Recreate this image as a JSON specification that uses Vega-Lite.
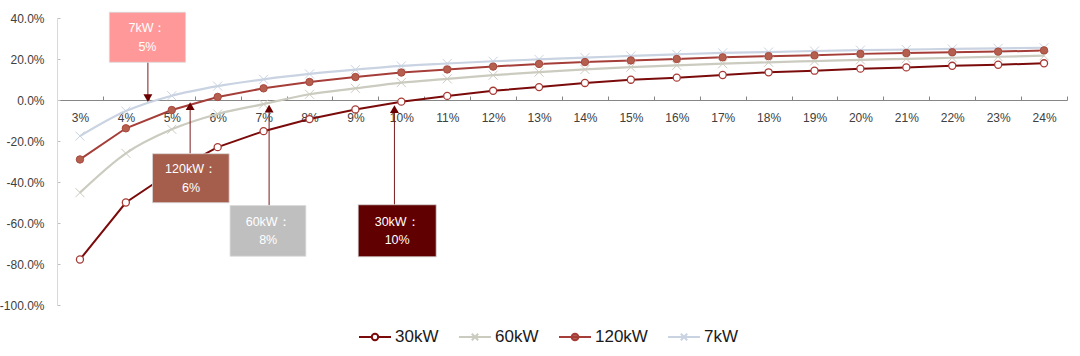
{
  "$schema": "https://vega.github.io/schema/vega-lite/v6.json",
  "width": 1010,
  "height": 287,
  "autosize": {"type": "none"},
  "padding": {"left": 57, "top": 18, "right": 13, "bottom": 51},
  "background": "#ffffff",
  "config": {
    "view": {"stroke": null},
    "font": "Liberation Sans",
    "axis": {"grid": false, "title": null}
  },
  "datasets": {
    "series": [
      {"irr": 3, "s": "30kW", "v": -77.8}, {"irr": 4, "s": "30kW", "v": -50.0}, {"irr": 5, "s": "30kW", "v": -35.0}, {"irr": 6, "s": "30kW", "v": -23.0},
      {"irr": 7, "s": "30kW", "v": -15.2}, {"irr": 8, "s": "30kW", "v": -9.3}, {"irr": 9, "s": "30kW", "v": -4.6}, {"irr": 10, "s": "30kW", "v": -0.8},
      {"irr": 11, "s": "30kW", "v": 2.0}, {"irr": 12, "s": "30kW", "v": 4.5}, {"irr": 13, "s": "30kW", "v": 6.3}, {"irr": 14, "s": "30kW", "v": 8.3},
      {"irr": 15, "s": "30kW", "v": 9.9}, {"irr": 16, "s": "30kW", "v": 10.9}, {"irr": 17, "s": "30kW", "v": 12.2}, {"irr": 18, "s": "30kW", "v": 13.5},
      {"irr": 19, "s": "30kW", "v": 14.3}, {"irr": 20, "s": "30kW", "v": 15.3}, {"irr": 21, "s": "30kW", "v": 15.9}, {"irr": 22, "s": "30kW", "v": 16.7},
      {"irr": 23, "s": "30kW", "v": 17.2}, {"irr": 24, "s": "30kW", "v": 17.9},
      {"irr": 3, "s": "60kW", "v": -45.2}, {"irr": 4, "s": "60kW", "v": -26.0}, {"irr": 5, "s": "60kW", "v": -14.3}, {"irr": 6, "s": "60kW", "v": -6.8},
      {"irr": 7, "s": "60kW", "v": -2.0}, {"irr": 8, "s": "60kW", "v": 2.8}, {"irr": 9, "s": "60kW", "v": 5.7}, {"irr": 10, "s": "60kW", "v": 8.5},
      {"irr": 11, "s": "60kW", "v": 10.3}, {"irr": 12, "s": "60kW", "v": 12.1}, {"irr": 13, "s": "60kW", "v": 13.6}, {"irr": 14, "s": "60kW", "v": 14.9},
      {"irr": 15, "s": "60kW", "v": 16.0}, {"irr": 16, "s": "60kW", "v": 16.9}, {"irr": 17, "s": "60kW", "v": 17.7}, {"irr": 18, "s": "60kW", "v": 18.4},
      {"irr": 19, "s": "60kW", "v": 19.0}, {"irr": 20, "s": "60kW", "v": 19.6}, {"irr": 21, "s": "60kW", "v": 20.1}, {"irr": 22, "s": "60kW", "v": 20.6},
      {"irr": 23, "s": "60kW", "v": 21.1}, {"irr": 24, "s": "60kW", "v": 21.6},
      {"irr": 3, "s": "120kW", "v": -29.0}, {"irr": 4, "s": "120kW", "v": -13.8}, {"irr": 5, "s": "120kW", "v": -4.9}, {"irr": 6, "s": "120kW", "v": 1.5},
      {"irr": 7, "s": "120kW", "v": 5.7}, {"irr": 8, "s": "120kW", "v": 8.8}, {"irr": 9, "s": "120kW", "v": 11.2}, {"irr": 10, "s": "120kW", "v": 13.4},
      {"irr": 11, "s": "120kW", "v": 14.9}, {"irr": 12, "s": "120kW", "v": 16.3}, {"irr": 13, "s": "120kW", "v": 17.6}, {"irr": 14, "s": "120kW", "v": 18.5},
      {"irr": 15, "s": "120kW", "v": 19.3}, {"irr": 16, "s": "120kW", "v": 20.0}, {"irr": 17, "s": "120kW", "v": 20.8}, {"irr": 18, "s": "120kW", "v": 21.4},
      {"irr": 19, "s": "120kW", "v": 21.8}, {"irr": 20, "s": "120kW", "v": 22.5}, {"irr": 21, "s": "120kW", "v": 22.9}, {"irr": 22, "s": "120kW", "v": 23.3},
      {"irr": 23, "s": "120kW", "v": 23.6}, {"irr": 24, "s": "120kW", "v": 24.2},
      {"irr": 3, "s": "7kW", "v": -17.6}, {"irr": 4, "s": "7kW", "v": -5.4}, {"irr": 5, "s": "7kW", "v": 2.1}, {"irr": 6, "s": "7kW", "v": 6.8},
      {"irr": 7, "s": "7kW", "v": 10.1}, {"irr": 8, "s": "7kW", "v": 12.7}, {"irr": 9, "s": "7kW", "v": 14.8}, {"irr": 10, "s": "7kW", "v": 16.6},
      {"irr": 11, "s": "7kW", "v": 17.8}, {"irr": 12, "s": "7kW", "v": 18.9}, {"irr": 13, "s": "7kW", "v": 19.8}, {"irr": 14, "s": "7kW", "v": 20.7},
      {"irr": 15, "s": "7kW", "v": 21.5}, {"irr": 16, "s": "7kW", "v": 22.3}, {"irr": 17, "s": "7kW", "v": 23.0}, {"irr": 18, "s": "7kW", "v": 23.4},
      {"irr": 19, "s": "7kW", "v": 23.9}, {"irr": 20, "s": "7kW", "v": 24.3}, {"irr": 21, "s": "7kW", "v": 24.6}, {"irr": 22, "s": "7kW", "v": 24.9},
      {"irr": 23, "s": "7kW", "v": 25.2}, {"irr": 24, "s": "7kW", "v": 25.5}
    ],
    "notes": [
      {"name": "7kW", "label": "7kW：\n5%", "bx1": 3.64, "bx2": 5.30, "by1": 42.8, "by2": 18.4, "cx": 4.47, "cy": 30.6, "ax": 4.48, "from": 18.4, "tri": 0.9, "dir": "down"},
      {"name": "120kW", "label": "120kW：\n6%", "bx1": 4.58, "bx2": 6.25, "by1": -26.2, "by2": -50.1, "cx": 5.42, "cy": -38.2, "ax": 5.40, "from": -26.2, "tri": -3.0, "dir": "up"},
      {"name": "60kW", "label": "60kW：\n8%", "bx1": 6.27, "bx2": 7.92, "by1": -51.5, "by2": -76.2, "cx": 7.10, "cy": -63.9, "ax": 7.12, "from": -51.5, "tri": -4.2, "dir": "up"},
      {"name": "30kW", "label": "30kW：\n10%", "bx1": 9.06, "bx2": 10.76, "by1": -51.1, "by2": -76.5, "cx": 9.91, "cy": -63.8, "ax": 9.85, "from": -51.1, "tri": -4.4, "dir": "up"}
    ]
  },
  "layer": [
    {
      "data": {"name": "series"},
      "transform": [{"filter": "datum.s === '30kW' || datum.s === '120kW'"}],
      "mark": {"type": "line", "strokeWidth": 2, "interpolate": "linear"},
      "encoding": {
        "x": {
          "field": "irr", "type": "quantitative",
          "scale": {"domain": [2.5, 24.5], "nice": false, "zero": false},
          "axis": {
            "values": [2.5, 3.5, 4.5, 5.5, 6.5, 7.5, 8.5, 9.5, 10.5, 11.5, 12.5, 13.5, 14.5, 15.5, 16.5, 17.5, 18.5, 19.5, 20.5, 21.5, 22.5, 23.5, 24.5],
            "labelExpr": "datum.value < 24 ? (datum.value + 0.5) + '%' : ''",
            "labelOffset": 23,
            "labelFlush": false,
            "labelOverlap": false,
            "labelBound": false,
            "offset": -205,
            "domainColor": "#868686",
            "tickColor": "#868686",
            "tickSize": -4,
            "labelPadding": 16,
            "labelFontSize": 12,
            "labelFont": "Liberation Sans",
            "labelColor": "#404040",
            "title": null,
            "grid": false
          }
        },
        "y": {
          "field": "v", "type": "quantitative",
          "scale": {"domain": [-100, 40], "nice": false, "zero": false},
          "axis": {
            "values": [-100, -80, -60, -40, -20, 0, 20, 40],
            "labelExpr": "(datum.value < 0 ? '-' : '') + format(abs(datum.value), '.1f') + '%'",
            "domainColor": "#d9d9d9",
            "tickColor": "#bfbfbf",
            "tickSize": -3,
            "labelPadding": 16,
            "labelFontSize": 12,
            "labelFont": "Liberation Sans",
            "labelColor": "#404040",
            "title": null,
            "grid": false
          }
        },
        "color": {
          "field": "s", "type": "nominal",
          "scale": {"domain": ["30kW", "60kW", "120kW", "7kW"], "range": ["#7b0a0a", "#cbcbc0", "#a53e38", "#c9d3e2"]},
          "legend": {
            "orient": "none",
            "legendX": 301,
            "legendY": 302,
            "direction": "horizontal",
            "title": null,
            "padding": 0,
            "symbolSize": 1024,
            "symbolStrokeWidth": 2,
            "labelFont": "Liberation Sans",
            "labelFontSize": 17,
            "labelColor": "#1a1a1a",
            "labelOffset": 3,
            "labelLimit": 200,
            "columnPadding": 16,
            "encode": {
              "symbols": {
                "update": {
                  "shape": {"signal": "datum.value === '30kW' ? 'M-1,0H-0.2M0.2,0H1M0.2,0A0.2,0.2,0,1,1,-0.2,0A0.2,0.2,0,1,1,0.2,0' : datum.value === '120kW' ? 'M-1,0H1M0.21,0A0.21,0.21,0,1,1,-0.21,0A0.21,0.21,0,1,1,0.21,0' : 'M-1,0H1M-0.2,-0.2L0.2,0.2M-0.2,0.2L0.2,-0.2'"},
                  "fill": {"signal": "datum.value === '30kW' ? '#ffffff' : datum.value === '120kW' ? '#b5604f' : 'transparent'"},
                  "stroke": {"signal": "datum.value === '30kW' ? '#7b0a0a' : datum.value === '120kW' ? '#a53e38' : datum.value === '60kW' ? '#cbcbc0' : '#c9d3e2'"},
                  "strokeWidth": {"value": 2},
                  "opacity": {"value": 1}
                }
              }
            }
          }
        }
      }
    },
    {
      "data": {"name": "series"},
      "transform": [{"filter": "datum.s === '60kW' || datum.s === '7kW'"}],
      "mark": {"type": "line", "strokeWidth": 2.2, "interpolate": "monotone"},
      "encoding": {
        "x": {"field": "irr", "type": "quantitative", "title": null},
        "y": {"field": "v", "type": "quantitative", "title": null},
        "color": {"field": "s", "type": "nominal", "scale": {"domain": ["30kW", "60kW", "120kW", "7kW"], "range": ["#7b0a0a", "#cbcbc0", "#a53e38", "#c9d3e2"]}}
      }
    },
    {
      "data": {"name": "series"},
      "transform": [{"filter": "datum.s === '60kW'"}],
      "mark": {"type": "point", "shape": "M-1,-1L1,1M-1,1L1,-1", "filled": false, "stroke": "#cbcbc0", "strokeWidth": 1, "size": 81, "opacity": 1},
      "encoding": {
        "x": {"field": "irr", "type": "quantitative", "title": null},
        "y": {"field": "v", "type": "quantitative", "title": null}
      }
    },
    {
      "data": {"name": "series"},
      "transform": [{"filter": "datum.s === '7kW'"}],
      "mark": {"type": "point", "shape": "M-1,-1L1,1M-1,1L1,-1", "filled": false, "stroke": "#c9d3e2", "strokeWidth": 1, "size": 81, "opacity": 1},
      "encoding": {
        "x": {"field": "irr", "type": "quantitative", "title": null},
        "y": {"field": "v", "type": "quantitative", "title": null}
      }
    },
    {
      "data": {"name": "series"},
      "transform": [{"filter": "datum.s === '120kW'"}],
      "mark": {"type": "point", "shape": "circle", "filled": true, "fill": "#b5604f", "stroke": "#a8493f", "strokeWidth": 1, "size": 55, "opacity": 1},
      "encoding": {
        "x": {"field": "irr", "type": "quantitative", "title": null},
        "y": {"field": "v", "type": "quantitative", "title": null}
      }
    },
    {
      "data": {"name": "series"},
      "transform": [{"filter": "datum.s === '30kW'"}],
      "mark": {"type": "point", "shape": "circle", "filled": true, "fill": "#ffffff", "stroke": "#a83a36", "strokeWidth": 1.3, "size": 50, "opacity": 1},
      "encoding": {
        "x": {"field": "irr", "type": "quantitative", "title": null},
        "y": {"field": "v", "type": "quantitative", "title": null}
      }
    },
    {
      "data": {"name": "notes"},
      "mark": {"type": "rule", "color": "#7b1c1c", "strokeWidth": 1},
      "encoding": {
        "x": {"field": "ax", "type": "quantitative", "title": null},
        "y": {"field": "from", "type": "quantitative", "title": null},
        "y2": {"field": "tri"}
      }
    },
    {
      "data": {"name": "notes"},
      "mark": {"type": "point", "filled": true, "color": "#6b0000", "size": 80, "opacity": 1},
      "encoding": {
        "x": {"field": "ax", "type": "quantitative", "title": null},
        "y": {"field": "tri", "type": "quantitative", "title": null},
        "shape": {"field": "dir", "type": "nominal", "scale": {"domain": ["down", "up"], "range": ["triangle-down", "triangle-up"]}, "legend": null}
      }
    },
    {
      "data": {"name": "notes"},
      "mark": {"type": "rect", "stroke": "#d9d9d9", "strokeWidth": 0.8},
      "encoding": {
        "x": {"field": "bx1", "type": "quantitative", "title": null},
        "x2": {"field": "bx2"},
        "y": {"field": "by1", "type": "quantitative", "title": null},
        "y2": {"field": "by2"},
        "fill": {"field": "name", "type": "nominal", "scale": {"domain": ["7kW", "120kW", "60kW", "30kW"], "range": ["#ff9999", "#a65e4c", "#bfbfbf", "#600000"]}, "legend": null}
      }
    },
    {
      "data": {"name": "notes"},
      "mark": {"type": "text", "color": "#ffffff", "font": "Liberation Sans", "fontSize": 12.5, "lineBreak": "\n", "lineHeight": 18.5, "align": "center", "baseline": "middle", "dy": -9},
      "encoding": {
        "x": {"field": "cx", "type": "quantitative", "title": null},
        "y": {"field": "cy", "type": "quantitative", "title": null},
        "text": {"field": "label"}
      }
    }
  ]
}
